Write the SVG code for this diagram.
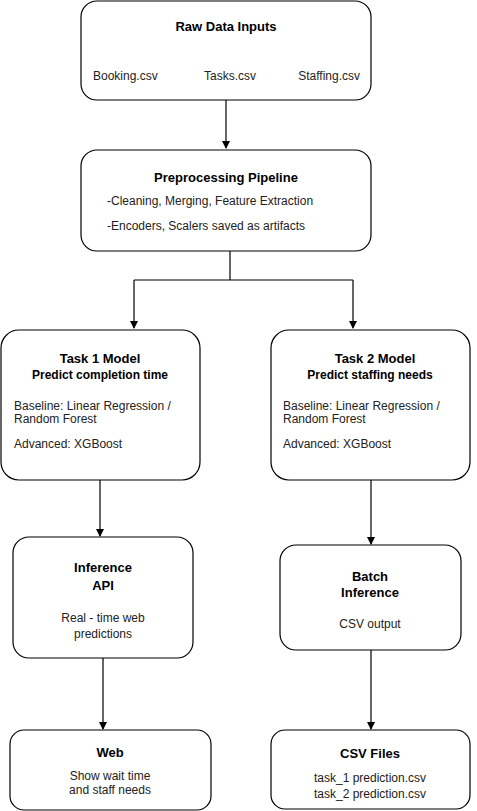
<svg xmlns="http://www.w3.org/2000/svg" width="477" height="811" viewBox="0 0 477 811">
<style>
.box{fill:#fff;stroke:#000;stroke-width:1.2}
.t{font-family:"Liberation Sans",Arial,sans-serif;font-size:13px;font-weight:bold;fill:#000;text-anchor:middle}
.s{font-family:"Liberation Sans",Arial,sans-serif;font-size:12px;font-weight:bold;fill:#000;text-anchor:middle}
.b{font-family:"Liberation Sans",Arial,sans-serif;font-size:12px;fill:#222}
.c{text-anchor:middle}
.ln{fill:none;stroke:#000;stroke-width:1.2}
</style>
<defs>
<marker id="ah" markerWidth="8" markerHeight="8" refX="7" refY="4" orient="auto" markerUnits="userSpaceOnUse">
<path d="M0,0 L8,4 L0,8 Z" fill="#000"/>
</marker>
</defs>
<rect width="477" height="811" fill="#fff"/>
<g id="connectors">
<path class="ln" d="M226,100 V148" marker-end="url(#ah)"/>
<path class="ln" d="M230,251 V280 M134,280 H353"/>
<path class="ln" d="M134,280 V328" marker-end="url(#ah)"/>
<path class="ln" d="M353,280 V328" marker-end="url(#ah)"/>
<path class="ln" d="M100,480 V536" marker-end="url(#ah)"/>
<path class="ln" d="M371,480 V544" marker-end="url(#ah)"/>
<path class="ln" d="M103,658 V729" marker-end="url(#ah)"/>
<path class="ln" d="M371,650 V729" marker-end="url(#ah)"/>
</g>
<g id="raw">
<rect class="box" x="81" y="1" width="290" height="99" rx="16"/>
<text class="t" x="226" y="31">Raw Data Inputs</text>
<text class="b" x="93" y="80">Booking.csv</text>
<text class="b c" x="230" y="80">Tasks.csv</text>
<text class="b" x="360" y="80" text-anchor="end">Staffing.csv</text>
</g>
<g id="prep">
<rect class="box" x="81" y="150" width="290" height="101" rx="16"/>
<text class="t" x="226" y="182">Preprocessing Pipeline</text>
<text class="b" x="107" y="205">-Cleaning, Merging, Feature Extraction</text>
<text class="b" x="107" y="230">-Encoders, Scalers saved as artifacts</text>
</g>
<g id="task1">
<rect class="box" x="1" y="330" width="199" height="150" rx="18"/>
<text class="t" x="100" y="363">Task 1 Model</text>
<text class="s" x="100" y="379">Predict completion time</text>
<text class="b" x="14" y="410">Baseline: Linear Regression /</text>
<text class="b" x="14" y="423">Random Forest</text>
<text class="b" x="14" y="448">Advanced: XGBoost</text>
</g>
<g id="task2">
<rect class="box" x="271" y="330" width="199" height="150" rx="18"/>
<text class="t" x="375" y="363">Task 2 Model</text>
<text class="s" x="370" y="379">Predict staffing needs</text>
<text class="b" x="283" y="410">Baseline: Linear Regression /</text>
<text class="b" x="283" y="423">Random Forest</text>
<text class="b" x="283" y="448">Advanced: XGBoost</text>
</g>
<g id="api">
<rect class="box" x="13" y="537" width="180" height="121" rx="16"/>
<text class="t" x="103" y="572">Inference</text>
<text class="t" x="103" y="590">API</text>
<text class="b c" x="103" y="622">Real - time web</text>
<text class="b c" x="103" y="638">predictions</text>
</g>
<g id="batch">
<rect class="box" x="280" y="545" width="181" height="105" rx="16"/>
<text class="t" x="370" y="581">Batch</text>
<text class="t" x="370" y="597">Inference</text>
<text class="b c" x="370" y="628">CSV output</text>
</g>
<g id="web">
<rect class="box" x="10" y="730" width="201" height="80" rx="14"/>
<text class="t" x="110" y="757">Web</text>
<text class="b c" x="110" y="780">Show wait time</text>
<text class="b c" x="110" y="794">and staff needs</text>
</g>
<g id="csv">
<rect class="box" x="271" y="730" width="199" height="79" rx="14"/>
<text class="t" x="370" y="758">CSV Files</text>
<text class="b c" x="370" y="782">task_1 prediction.csv</text>
<text class="b c" x="370" y="798">task_2 prediction.csv</text>
</g>
</svg>
